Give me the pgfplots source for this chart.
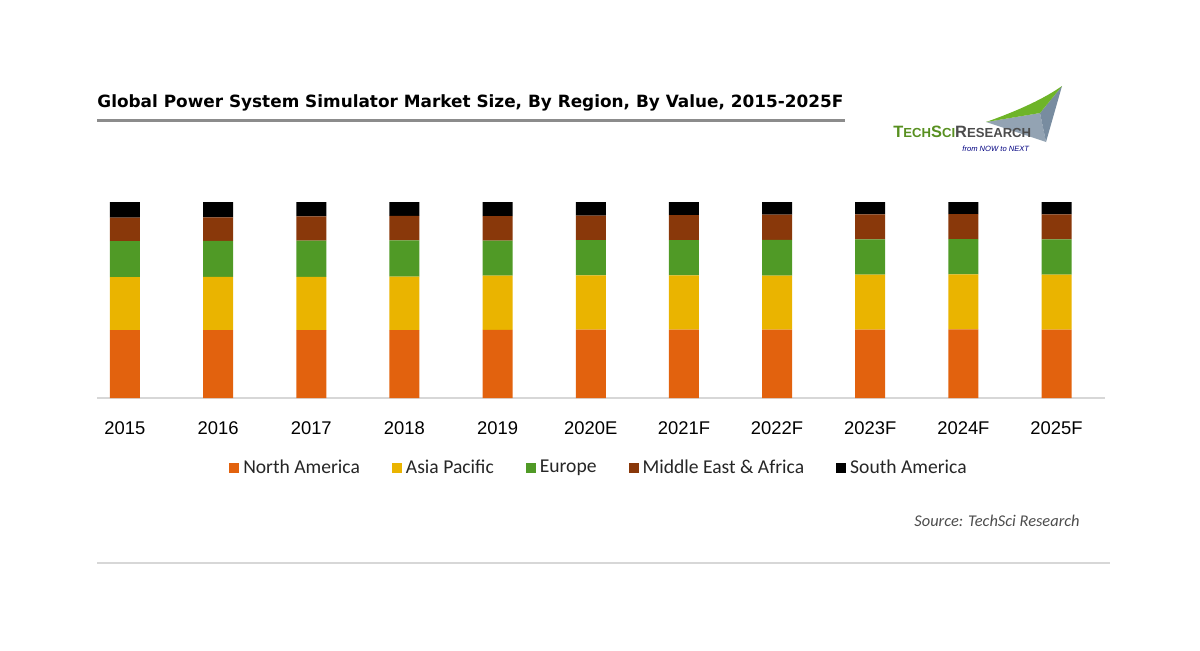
\documentclass[border=0pt]{standalone}
\usepackage{pgfplots}
\pgfplotsset{compat=1.18}
\usepackage{pgfplotstable}
\usepackage{fontspec}
\setmainfont{Liberation Sans}
\newfontfamily\titlefont{DejaVu Sans}
\newfontfamily\legfont{Carlito}
\definecolor{cNA}{RGB}{226,98,14}
\definecolor{cAP}{RGB}{234,180,0}
\definecolor{cEU}{RGB}{80,154,38}
\definecolor{cME}{RGB}{137,56,10}
\definecolor{cSA}{RGB}{0,0,0}
\definecolor{axgrey}{RGB}{215,215,215}
\definecolor{logogreen}{RGB}{110,180,40}
\definecolor{logoblue}{RGB}{120,140,160}

\pgfplotstableread{
x NA AP EU ME SA
0 34.6 27.1 18.4 11.9 8.0
1 34.6 27.2 18.4 12.0 7.8
2 34.6 27.2 18.5 12.4 7.3
3 34.6 27.3 18.5 12.5 7.1
4 34.8 27.6 17.9 12.5 7.2
5 34.9 27.7 17.9 12.6 6.9
6 34.9 27.7 17.9 12.8 6.7
7 34.9 27.6 18.2 12.8 6.5
8 34.9 28.1 17.9 12.8 6.3
9 35.0 28.1 17.9 12.8 6.2
10 34.9 28.1 17.9 12.8 6.3
}\datatable

\begin{document}
\begin{tikzpicture}
% canvas (1200x650 px at 0.5pt/px)
\path (0,0) rectangle (600pt,325pt);
\begin{axis}[
  at={(48.5pt,126pt)}, anchor=south west,
  scale only axis, width=504pt, height=98pt,
  ybar stacked, bar width=15pt,
  xmin=-0.3, xmax=10.52, ymin=0, ymax=100,
  axis y line=none, axis x line*=bottom,
  x axis line style={draw=axgrey, line width=1pt, -},
  xtick=data, major tick length=0pt,
  xticklabels={2015,2016,2017,2018,2019,2020E,2021F,2022F,2023F,2024F,2025F},
  xticklabel style={font=\fontsize{9.2}{10}\selectfont, text=black, yshift=-8.5pt},
  legend columns=5,
  legend style={draw=none, at={(0.499,-0.357)}, anchor=center,
    font=\legfont\fontsize{9.8}{11}\selectfont, text=black!85,
    /tikz/every even column/.append style={column sep=14pt}},
  legend image code/.code={\fill[#1] (0pt,-2.5pt) rectangle (5pt,2.5pt);},
  every axis plot/.append style={draw=none},
]
\addplot[fill=cNA] table[x=x,y=NA]{\datatable};
\addplot[fill=cAP] table[x=x,y=AP]{\datatable};
\addplot[fill=cEU] table[x=x,y=EU]{\datatable};
\addplot[fill=cME] table[x=x,y=ME]{\datatable};
\addplot[fill=cSA] table[x=x,y=SA]{\datatable};
\legend{North America, Asia Pacific, Europe, Middle East \& Africa, South America}
\end{axis}
\begin{scope}[x=0.5pt, y=-0.5pt, yshift=325pt]
  % title
  \node[anchor=west, inner sep=0pt] at (97,103)
    {\resizebox{373pt}{!}{\titlefont\bfseries Global Power System Simulator Market Size, By Region, By Value, 2015-2025F}};
  \draw[black!45, line width=1.5pt] (97,120) -- (845,120);
  % logo
  \fill[logoblue!80] (986,122) -- (1040,113) -- (1046,142) -- cycle;
  \fill[logoblue] (1040,113) -- (1062,86) -- (1046,142) -- cycle;
  \fill[logogreen] (986,122) .. controls (1020,110) and (1045,98) .. (1062,86) -- (1040,113) -- cycle;
  \node[anchor=west, inner sep=0pt] at (893,132)
    {\fontsize{8.2}{9}\selectfont\bfseries\textcolor{logogreen!80!black}{T\scalebox{0.8}{ECH}S\scalebox{0.8}{CI}}\textcolor{black!70}{R\scalebox{0.8}{ESEARCH}}};
  \node[anchor=west, inner sep=0pt] at (962,149)
    {\fontsize{3.8}{4}\selectfont\itshape\textcolor{blue!50!black}{from NOW to NEXT}};
  % source
  \node[anchor=east, inner sep=0pt] at (1080,521)
    {\legfont\itshape\fontsize{8.2}{9}\selectfont\textcolor{black!70}{Source: TechSci Research}};
  \draw[axgrey, line width=0.8pt] (97,563) -- (1110,563);
\end{scope}
\end{tikzpicture}
\end{document}
